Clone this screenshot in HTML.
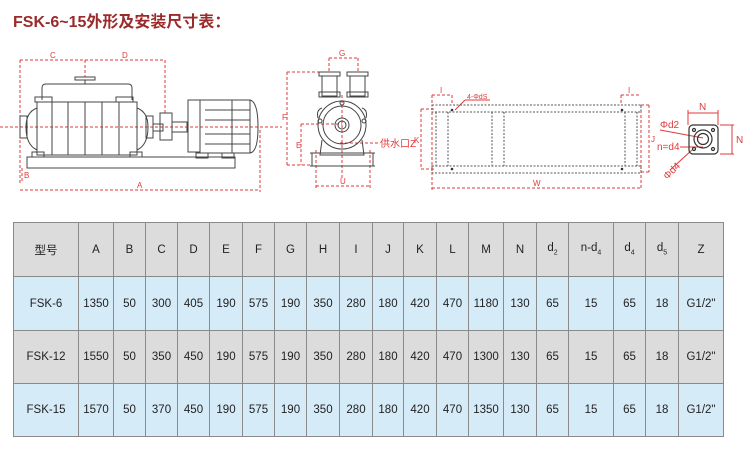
<!DOCTYPE html>
<html><head><meta charset="utf-8"><style>
body{margin:0;width:756px;height:465px;background:#fff;overflow:hidden;font-family:"Liberation Sans","Noto Sans CJK SC",sans-serif}
.t{position:absolute;left:13px;top:8px;font-size:16px;font-weight:bold;color:#9b2a2a;letter-spacing:0}
table{position:absolute;left:13px;top:222px;border-collapse:collapse;table-layout:fixed;width:711px}
td{border:1px solid #8a8a8a;text-align:center;font-size:11.5px;color:#222;height:52px;padding:0}
tr.h td{background:#dcdcdc}
tr.b td{background:#d5ebf8}
tr.g td{background:#dcdcdc}
svg{position:absolute;left:0;top:0}
</style></head><body>
<div class="t">FSK-6~15外形及安装尺寸表：</div>
<svg width="756" height="210" viewBox="0 0 756 210" font-family="Liberation Sans" >
<g stroke="#e03a3a" stroke-width="1" stroke-dasharray="3,2" fill="none">
<line x1="0" y1="127" x2="282" y2="127"/>
<line x1="20" y1="60" x2="165" y2="60"/><line x1="20" y1="60" x2="20" y2="185"/><line x1="165" y1="60" x2="165" y2="115"/><line x1="85" y1="60" x2="85" y2="77"/>
<line x1="20" y1="190" x2="260" y2="190"/><line x1="260" y1="130" x2="260" y2="192"/>
<line x1="22" y1="168" x2="22" y2="182"/>
<line x1="287" y1="72" x2="287" y2="165"/><line x1="287" y1="72" x2="325" y2="72"/><line x1="287" y1="165" x2="310" y2="165"/>
<line x1="301" y1="124" x2="301" y2="165"/><line x1="301" y1="124" x2="342" y2="124"/>
<line x1="316" y1="150" x2="316" y2="188"/><line x1="370" y1="150" x2="370" y2="188"/><line x1="316" y1="186" x2="370" y2="186"/>
<line x1="329" y1="58" x2="358" y2="58"/><line x1="329" y1="58" x2="329" y2="72"/><line x1="358" y1="58" x2="358" y2="72"/>
<line x1="342" y1="95" x2="342" y2="180"/><line x1="340" y1="143" x2="378" y2="143"/>
<line x1="432" y1="112" x2="432" y2="190"/><line x1="641" y1="105" x2="641" y2="190"/><line x1="432" y1="188" x2="641" y2="188"/>
<line x1="421" y1="109" x2="421" y2="169"/><line x1="421" y1="109" x2="436" y2="109"/><line x1="421" y1="169" x2="436" y2="169"/>
<line x1="641" y1="105" x2="651" y2="105"/><line x1="641" y1="172" x2="651" y2="172"/><line x1="649" y1="105" x2="649" y2="172"/>
<line x1="432" y1="95" x2="452" y2="95"/><line x1="432" y1="95" x2="432" y2="105"/><line x1="452" y1="95" x2="452" y2="105"/>
<line x1="621" y1="95" x2="641" y2="95"/><line x1="621" y1="95" x2="621" y2="105"/>
</g>
<g stroke="#e03a3a" fill="none" stroke-width="1">
<line x1="688" y1="113" x2="718" y2="113"/><line x1="688" y1="110" x2="688" y2="125"/><line x1="718" y1="110" x2="718" y2="125"/>
<line x1="720" y1="125" x2="734" y2="125"/><line x1="720" y1="154" x2="734" y2="154"/><line x1="732" y1="125" x2="732" y2="154"/>
<line x1="660" y1="130" x2="703" y2="138"/><line x1="680" y1="147" x2="703" y2="147"/><line x1="670" y1="170" x2="692" y2="150"/>
<line x1="455" y1="110" x2="465" y2="100"/><line x1="465" y1="100" x2="490" y2="100"/>
</g>
<g fill="#e03a3a" font-size="8">
<text x="50" y="58">C</text><text x="122" y="58">D</text><text x="137" y="188">A</text><text x="24" y="178">B</text>
<text x="339" y="56">G</text><text x="340" y="184">U</text><text x="282" y="120">F</text><text x="296" y="148">E</text>
<text x="533" y="186">W</text><text x="414" y="143">K</text><text x="651" y="142">J</text>
<text x="440" y="93">I</text><text x="628" y="93">I</text><text x="467" y="99" font-size="7">4-ΦdS</text>
<text x="699" y="110" font-size="10">N</text><text x="736" y="143" font-size="10">N</text>
<text x="660" y="128" font-size="10">Φd2</text><text x="657" y="150" font-size="10">n=d4</text>
<text x="664" y="178" font-size="10" transform="rotate(-45 668 175)">Φd4</text>
<text x="380" y="147" font-size="10">供水口Z</text>
</g>
<g stroke="#444" stroke-width="1" fill="none">
<rect x="75" y="77" width="20" height="3"/><line x1="85" y1="80" x2="85" y2="84"/>
<path d="M42 100 V88 Q42 84 46 84 H128 Q132 84 132 88 V100"/>
<rect x="35" y="97" width="17" height="5"/><rect x="116" y="97" width="17" height="5"/>
<rect x="37" y="102" width="100" height="53"/>
<line x1="52" y1="102" x2="52" y2="155"/><line x1="68" y1="102" x2="68" y2="155"/><line x1="85" y1="102" x2="85" y2="155"/><line x1="102" y1="102" x2="102" y2="155"/><line x1="119" y1="102" x2="119" y2="155"/>
<path d="M37 108 Q26 112 26 127 Q26 145 37 150"/><path d="M137 108 Q148 112 148 127 Q148 145 137 150"/>
<rect x="20" y="116" width="7" height="22"/><rect x="146" y="116" width="7" height="22"/>
<rect x="153" y="124" width="10" height="7"/>
<rect x="160" y="113" width="12" height="27"/><rect x="172" y="122" width="15" height="10"/>
<rect x="188" y="100" width="12" height="52"/><rect x="200" y="100" width="50" height="53"/>
<path d="M250 100 Q258 102 258 127 Q258 152 250 153"/>
<line x1="205" y1="110" x2="250" y2="110"/><line x1="205" y1="120" x2="250" y2="120"/><line x1="205" y1="134" x2="250" y2="134"/><line x1="205" y1="144" x2="250" y2="144"/>
<line x1="232" y1="100" x2="232" y2="153"/>
<rect x="27" y="157" width="208" height="11"/>
<rect x="196" y="153" width="12" height="5"/><rect x="222" y="153" width="12" height="5"/>
<rect x="32" y="152" width="12" height="5"/><rect x="130" y="152" width="12" height="5"/>
<rect x="319" y="72" width="21" height="4"/><rect x="347" y="72" width="21" height="4"/>
<rect x="322" y="76" width="15" height="20"/><rect x="350" y="76" width="15" height="20"/>
<rect x="319" y="92" width="21" height="5"/><rect x="347" y="92" width="21" height="5"/>
<circle cx="342" cy="125" r="24"/><circle cx="342" cy="125" r="19"/><circle cx="342" cy="125" r="7"/><circle cx="342" cy="125" r="4"/>
<path d="M318 118 Q316 110 322 108 M366 118 Q368 110 362 108"/>
<circle cx="320" cy="121" r="2"/><circle cx="364" cy="121" r="2"/><circle cx="342" cy="103" r="2"/>
<path d="M322 140 L320 155 H364 L362 140"/>
<path d="M310 153 H375 M312 153 V166 M373 153 V166 M310 166 H375"/>
</g>
<g stroke="#555" stroke-width="1" fill="none" stroke-dasharray="2,1.5">
<rect x="432" y="105" width="209" height="7"/><rect x="432" y="166" width="209" height="7"/>
<line x1="436" y1="112" x2="436" y2="166"/><line x1="448" y1="112" x2="448" y2="166"/>
<line x1="492" y1="112" x2="492" y2="166"/><line x1="504" y1="112" x2="504" y2="166"/>
<line x1="625" y1="112" x2="625" y2="166"/><line x1="637" y1="112" x2="637" y2="166"/>
</g>
<g fill="#333"><circle cx="452" cy="110" r="1.3"/><circle cx="622" cy="110" r="1.3"/><circle cx="452" cy="169" r="1.3"/><circle cx="622" cy="169" r="1.3"/></g>
<g stroke="#333" fill="none" stroke-width="1.2">
<rect x="689" y="125" width="29" height="29" rx="4"/><circle cx="703" cy="139" r="9"/><circle cx="703" cy="139" r="5.5"/>
<circle cx="694" cy="130" r="1.5"/><circle cx="713" cy="130" r="1.5"/><circle cx="694" cy="149" r="1.5"/><circle cx="713" cy="149" r="1.5"/>
</g>
</svg>
<table>
<colgroup><col style="width:65px"><col style="width:35px"><col style="width:32px"><col style="width:32px"><col style="width:32px"><col style="width:33px"><col style="width:32px"><col style="width:32px"><col style="width:33px"><col style="width:33px"><col style="width:31px"><col style="width:33px"><col style="width:32px"><col style="width:35px"><col style="width:33px"><col style="width:32px"><col style="width:45px"><col style="width:32px"><col style="width:33px"><col style="width:45px"></colgroup>
<tr class="h" style="height:54px"><td>型号</td><td>A</td><td>B</td><td>C</td><td>D</td><td>E</td><td>F</td><td>G</td><td>H</td><td>I</td><td>J</td><td>K</td><td>L</td><td>M</td><td>N</td><td>d<sub style="font-size:7px">2</sub></td><td>n-d<sub style="font-size:7px">4</sub></td><td>d<sub style="font-size:7px">4</sub></td><td>d<sub style="font-size:7px">5</sub></td><td>Z</td></tr>
<tr class="b" style="height:54px"><td>FSK-6</td><td>1350</td><td>50</td><td>300</td><td>405</td><td>190</td><td>575</td><td>190</td><td>350</td><td>280</td><td>180</td><td>420</td><td>470</td><td>1180</td><td>130</td><td>65</td><td>15</td><td>65</td><td>18</td><td>G1/2"</td></tr>
<tr class="g" style="height:53px"><td>FSK-12</td><td>1550</td><td>50</td><td>350</td><td>450</td><td>190</td><td>575</td><td>190</td><td>350</td><td>280</td><td>180</td><td>420</td><td>470</td><td>1300</td><td>130</td><td>65</td><td>15</td><td>65</td><td>18</td><td>G1/2"</td></tr>
<tr class="b" style="height:53px"><td>FSK-15</td><td>1570</td><td>50</td><td>370</td><td>450</td><td>190</td><td>575</td><td>190</td><td>350</td><td>280</td><td>180</td><td>420</td><td>470</td><td>1350</td><td>130</td><td>65</td><td>15</td><td>65</td><td>18</td><td>G1/2"</td></tr>
</table>
</body></html>
